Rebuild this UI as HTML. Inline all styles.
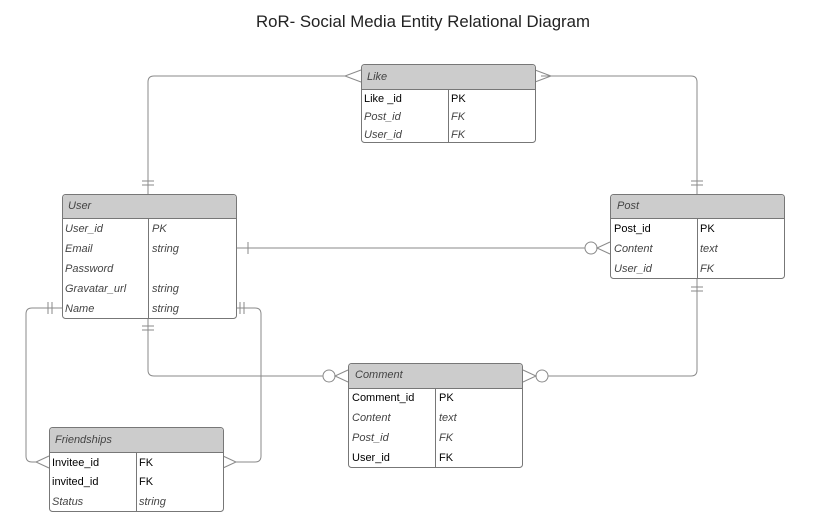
<!DOCTYPE html>
<html><head><meta charset="utf-8"><style>
html,body{margin:0;padding:0;background:#fff;}
svg{display:block;font-family:"Liberation Sans",sans-serif;}
.b{fill:#fff;stroke:#777;stroke-width:1;}
.h{fill:#cccccc;}
.l{fill:none;stroke:#8a8a8a;stroke-width:1;}
.t{font-size:11px;fill:#000;}
.i{font-size:11px;fill:#444;font-style:italic;}
</style></head><body>
<svg width="813" height="527" viewBox="0 0 813 527" xmlns="http://www.w3.org/2000/svg">
<text x="423" y="27" text-anchor="middle" font-size="16.8" fill="#222">RoR- Social Media Entity Relational Diagram</text>

<g class="l">
<path d="M345 76 H154 Q148 76 148 82 V194"/>
<path d="M541 76 H691 Q697 76 697 82 V194"/>
<line x1="142" y1="181" x2="154" y2="181"/><line x1="142" y1="185" x2="154" y2="185"/>
<line x1="691" y1="181" x2="703" y2="181"/><line x1="691" y1="185" x2="703" y2="185"/>
<path d="M361 70 L345 76 L361 82"/>
<path d="M535 70 L551 76 L535 82"/>
<path d="M236 248 H585"/>
<line x1="248" y1="242" x2="248" y2="254"/>
<circle cx="591" cy="248" r="6" fill="#fff"/>
<path d="M610 242 L597 248 L610 254"/>
<path d="M148 318 V370 Q148 376 154 376 H323"/>
<line x1="142" y1="326" x2="154" y2="326"/><line x1="142" y1="330" x2="154" y2="330"/>
<circle cx="329" cy="376" r="6" fill="#fff"/>
<path d="M348 370 L335 376 L348 382"/>
<path d="M697 279 V370 Q697 376 691 376 H548"/>
<line x1="691" y1="287" x2="703" y2="287"/><line x1="691" y1="291" x2="703" y2="291"/>
<circle cx="542" cy="376" r="6" fill="#fff"/>
<path d="M523 370 L536 376 L523 382"/>
<path d="M62 308 H32 Q26 308 26 314 V456 Q26 462 32 462 H36"/>
<line x1="48" y1="302" x2="48" y2="314"/><line x1="52" y1="302" x2="52" y2="314"/>
<path d="M49 456 L36 462 L49 468"/>
<path d="M236 308 H255 Q261 308 261 314 V456 Q261 462 255 462 H236"/>
<line x1="240" y1="302" x2="240" y2="314"/><line x1="244" y1="302" x2="244" y2="314"/>
<path d="M223 456 L236 462 L223 468"/>
</g>

<rect class="b" x="361.5" y="64.5" width="174" height="78" rx="3"/>
<path class="h" d="M362 68 Q362 65 365 65 H532 Q535 65 535 68 V89 H362Z"/>
<line x1="361" y1="89.5" x2="536" y2="89.5" stroke="#777"/>
<line x1="448.5" y1="90" x2="448.5" y2="142" stroke="#777"/>
<text class="i" x="367" y="80">Like</text>
<text class="t" x="364" y="102">Like _id</text><text class="t" x="451" y="102">PK</text>
<text class="i" x="364" y="120">Post_id</text><text class="i" x="451" y="120">FK</text>
<text class="i" x="364" y="138">User_id</text><text class="i" x="451" y="138">FK</text>

<rect class="b" x="62.5" y="194.5" width="174" height="124" rx="3"/>
<path class="h" d="M63 198 Q63 195 66 195 H233 Q236 195 236 198 V218 H63Z"/>
<line x1="62" y1="218.5" x2="237" y2="218.5" stroke="#777"/>
<line x1="148.5" y1="219" x2="148.5" y2="318" stroke="#777"/>
<text class="i" x="68" y="209">User</text>
<text class="i" x="65" y="232">User_id</text><text class="i" x="152" y="232">PK</text>
<text class="i" x="65" y="252">Email</text><text class="i" x="152" y="252">string</text>
<text class="i" x="65" y="272">Password</text>
<text class="i" x="65" y="292">Gravatar_url</text><text class="i" x="152" y="292">string</text>
<text class="i" x="65" y="312">Name</text><text class="i" x="152" y="312">string</text>

<rect class="b" x="610.5" y="194.5" width="174" height="84" rx="3"/>
<path class="h" d="M611 198 Q611 195 614 195 H781 Q784 195 784 198 V218 H611Z"/>
<line x1="610" y1="218.5" x2="785" y2="218.5" stroke="#777"/>
<line x1="697.5" y1="219" x2="697.5" y2="278" stroke="#777"/>
<text class="i" x="617" y="209">Post</text>
<text class="t" x="614" y="232">Post_id</text><text class="t" x="700" y="232">PK</text>
<text class="i" x="614" y="252">Content</text><text class="i" x="700" y="252">text</text>
<text class="i" x="614" y="272">User_id</text><text class="i" x="700" y="272">FK</text>

<rect class="b" x="348.5" y="363.5" width="174" height="104" rx="3"/>
<path class="h" d="M349 367 Q349 364 352 364 H519 Q522 364 522 367 V388 H349Z"/>
<line x1="348" y1="388.5" x2="523" y2="388.5" stroke="#777"/>
<line x1="435.5" y1="389" x2="435.5" y2="467" stroke="#777"/>
<text class="i" x="355" y="378">Comment</text>
<text class="t" x="352" y="401">Comment_id</text><text class="t" x="439" y="401">PK</text>
<text class="i" x="352" y="421">Content</text><text class="i" x="439" y="421">text</text>
<text class="i" x="352" y="441">Post_id</text><text class="i" x="439" y="441">FK</text>
<text class="t" x="352" y="461">User_id</text><text class="t" x="439" y="461">FK</text>

<rect class="b" x="49.5" y="427.5" width="174" height="84" rx="3"/>
<path class="h" d="M50 431 Q50 428 53 428 H220 Q223 428 223 431 V452 H50Z"/>
<line x1="49" y1="452.5" x2="224" y2="452.5" stroke="#777"/>
<line x1="136.5" y1="453" x2="136.5" y2="511" stroke="#777"/>
<text class="i" x="55" y="443">Friendships</text>
<text class="t" x="52" y="466">Invitee_id</text><text class="t" x="139" y="466">FK</text>
<text class="t" x="52" y="485">invited_id</text><text class="t" x="139" y="485">FK</text>
<text class="i" x="52" y="505">Status</text><text class="i" x="139" y="505">string</text>
</svg>
</body></html>
